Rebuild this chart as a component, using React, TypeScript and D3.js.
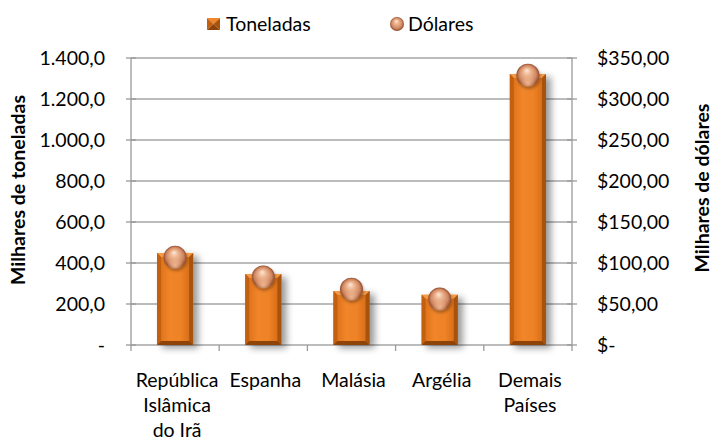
import React from "react";
import * as d3 from "d3";

const categories = ["República\nIslâmica\ndo Irã", "Espanha", "Malásia", "Argélia", "Demais\nPaíses"];
const toneladas = [449, 346, 263, 245, 1322];
const dolares = [107, 83, 68, 56, 329];
const leftTicks = [0, 200, 400, 600, 800, 1000, 1200, 1400];
const rightTicks = [0, 50, 100, 150, 200, 250, 300, 350];
const seriesNames = ["Toneladas", "Dólares"];
const leftTitle = "Milhares de toneladas";
const rightTitle = "Milhares de dólares";

const W = 716, H = 441;
const FONT = "Lato, 'Open Sans', sans-serif";

const fmtLeft = (v: number) => {
  if (v === 0) return "-";
  const s = v.toFixed(1).replace(".", ",");
  const [i, d] = s.split(",");
  return i.replace(/\B(?=(\d{3})+(?!\d))/g, ".") + "," + d;
};
const fmtRight = (v: number) => (v === 0 ? "$-" : "$" + v.toFixed(2).replace(".", ","));

export default function App() {
  const left = 131, right = 572, top = 58, bottom = 345;
  const x = d3.scaleBand<string>().domain(categories).range([left, right]).paddingInner(0).paddingOuter(0);
  const yL = d3.scaleLinear().domain([0, 1400]).range([bottom, top]);
  const yR = d3.scaleLinear().domain([0, 350]).range([bottom, top]);
  const bw = x.bandwidth();
  const barW = bw * 0.41;
  const bev = 4;
  const r = 11.5;
  const fs = 19.5;

  return (
    <svg width={W} height={H} style={{ position: "absolute", left: 0, top: 0, background: "#fff" }} fontFamily={FONT}>
      <defs>
        <linearGradient id="barG" x1="0" x2="1" y1="0" y2="0">
          <stop offset="0" stopColor="#D96C16" />
          <stop offset="0.35" stopColor="#F0852A" />
          <stop offset="0.65" stopColor="#EE8226" />
          <stop offset="1" stopColor="#D06614" />
        </linearGradient>
        <radialGradient id="ballG" cx="0.5" cy="0.5" r="0.5" fx="0.45" fy="0.28">
          <stop offset="0" stopColor="#FDE8DA" />
          <stop offset="0.3" stopColor="#EFB994" />
          <stop offset="0.75" stopColor="#D08660" />
          <stop offset="1" stopColor="#8E4C2C" />
        </radialGradient>
        <radialGradient id="ballRef" cx="0.5" cy="0.85" r="0.35">
          <stop offset="0" stopColor="#F5BE98" stopOpacity="0.85" />
          <stop offset="1" stopColor="#F5BE98" stopOpacity="0" />
        </radialGradient>
        <filter id="shadow" x="-30%" y="-10%" width="170%" height="130%">
          <feDropShadow dx="5" dy="3" stdDeviation="3.5" floodColor="#000" floodOpacity="0.4" />
        </filter>
        <filter id="bshadow" x="-50%" y="-50%" width="200%" height="200%">
          <feDropShadow dx="1" dy="2" stdDeviation="1.5" floodColor="#000" floodOpacity="0.3" />
        </filter>
      </defs>

      {/* gridlines */}
      {leftTicks.map((t) => (
        <line key={"g" + t} x1={left} x2={right} y1={yL(t)} y2={yL(t)} stroke="#A6A6A6" strokeWidth={1.3} />
      ))}
      {/* axes */}
      <line x1={left} x2={left} y1={top} y2={bottom + 6} stroke="#9A9A9A" strokeWidth={1.3} />
      <line x1={right} x2={right} y1={top} y2={bottom + 6} stroke="#9A9A9A" strokeWidth={1.3} />
      {leftTicks.map((t) => (
        <line key={"lt" + t} x1={left - 5} x2={left + 5} y1={yL(t)} y2={yL(t)} stroke="#9A9A9A" strokeWidth={1.3} />
      ))}
      {rightTicks.map((t) => (
        <line key={"rt" + t} x1={right - 5} x2={right + 5} y1={yR(t)} y2={yR(t)} stroke="#9A9A9A" strokeWidth={1.3} />
      ))}
      {categories.slice(1).map((c) => (
        <line key={"bt" + c} x1={x(c)!} x2={x(c)!} y1={bottom} y2={bottom + 6} stroke="#9A9A9A" strokeWidth={1.3} />
      ))}

      {/* bars */}
      {categories.map((c, i) => {
        const x0 = x(c)! + (bw - barW) / 2;
        const x1 = x0 + barW;
        const y0 = yL(toneladas[i]);
        const y1 = bottom;
        return (
          <g key={"b" + i}>
            <rect x={x0} y={y0} width={barW} height={y1 - y0} fill="url(#barG)" filter="url(#shadow)" />
            <polygon points={`${x0},${y0} ${x1},${y0} ${x1 - bev},${y0 + bev} ${x0 + bev},${y0 + bev}`} fill="#F59A47" />
            <polygon points={`${x0},${y0} ${x0 + bev},${y0 + bev} ${x0 + bev},${y1 - bev} ${x0},${y1}`} fill="#C2600F" />
            <polygon points={`${x1},${y0} ${x1},${y1} ${x1 - bev},${y1 - bev} ${x1 - bev},${y0 + bev}`} fill="#A9520C" />
            <polygon points={`${x0},${y1} ${x0 + bev},${y1 - bev} ${x1 - bev},${y1 - bev} ${x1},${y1}`} fill="#8E4309" />
          </g>
        );
      })}

      {/* balls */}
      {categories.map((c, i) => {
        const cx = x(c)! + bw / 2;
        const cy = yR(dolares[i]);
        return (
          <g key={"d" + i} filter="url(#bshadow)">
            <circle cx={cx} cy={cy} r={r} fill="url(#ballG)" />
            <circle cx={cx} cy={cy} r={r} fill="url(#ballRef)" />
          </g>
        );
      })}

      {/* left tick labels */}
      {leftTicks.map((t) => (
        <text key={"ll" + t} x={105} y={yL(t)} dy="0.35em" textAnchor="end" fontSize={fs} fill="#000">
          {fmtLeft(t)}
        </text>
      ))}
      {rightTicks.map((t) => (
        <text key={"rl" + t} x={597} y={yR(t)} dy="0.35em" textAnchor="start" fontSize={fs} fill="#000">
          {fmtRight(t)}
        </text>
      ))}

      {/* category labels */}
      {categories.map((c) => (
        <text key={"cl" + c} textAnchor="middle" fontSize={fs} fill="#000">
          {c.split("\n").map((ln, j) => (
            <tspan key={j} x={x(c)! + bw / 2 + 2} y={380 + j * 25} dy="0.35em">
              {ln}
            </tspan>
          ))}
        </text>
      ))}

      {/* axis titles */}
      <text transform={`translate(18,190) rotate(-90)`} textAnchor="middle" dy="0.35em" fontSize={19.5} fontWeight="bold" fill="#000">
        {leftTitle}
      </text>
      <text transform={`translate(702,188) rotate(-90)`} textAnchor="middle" dy="0.35em" fontSize={19.5} fontWeight="bold" fill="#000">
        {rightTitle}
      </text>

      {/* legend */}
      <g>
        <polygon points="207,18 220,18 213.5,24" fill="#F0852A" />
        <polygon points="207,18 213.5,24 207,30" fill="#C2600F" />
        <polygon points="220,18 220,30 213.5,24" fill="#A9520C" />
        <polygon points="207,30 213.5,24 220,30" fill="#8E4309" />
        <text x={226} y={24} dy="0.35em" fontSize={fs} fill="#000">{seriesNames[0]}</text>
        <circle cx={397} cy={24} r={7} fill="url(#ballG)" />
        <text x={408} y={24} dy="0.35em" fontSize={fs} fill="#000">{seriesNames[1]}</text>
      </g>
    </svg>
  );
}
